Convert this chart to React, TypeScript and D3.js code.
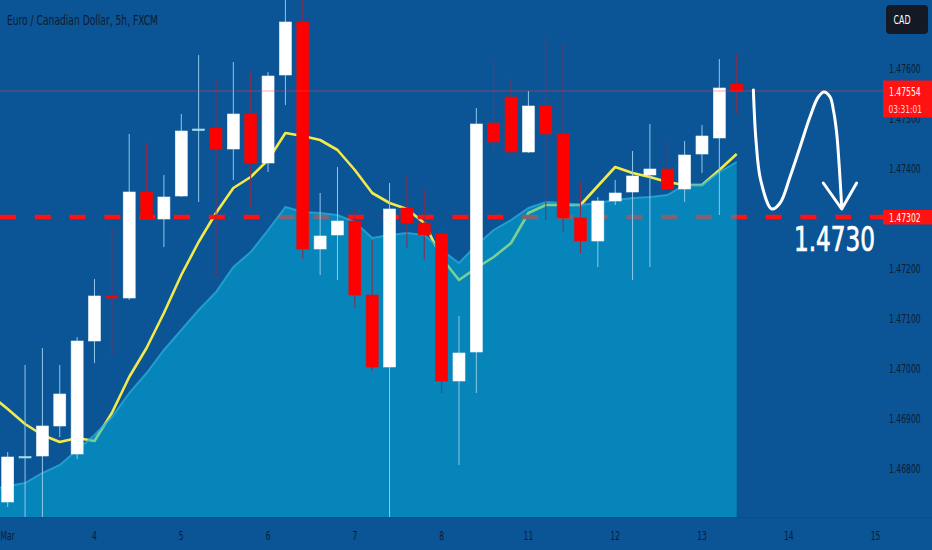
import React, { useEffect } from 'react';
import * as d3 from 'd3';

// 5h candles, EUR/CAD
const opens = [1.46732, 1.46822, 1.46824, 1.46884, 1.46828, 1.47054, 1.47144, 1.4714, 1.47352, 1.47298, 1.47344, 1.47477, 1.4748, 1.47438, 1.47508, 1.4741, 1.47586, 1.47692, 1.47238, 1.47266, 1.47294, 1.47146, 1.47002, 1.4732, 1.4729, 1.47268, 1.46974, 1.47032, 1.4749, 1.47542, 1.47432, 1.47524, 1.47468, 1.473, 1.47254, 1.47334, 1.47352, 1.47386, 1.47398, 1.47358, 1.47428, 1.4746, 1.47568];
const highs = [1.46832, 1.47006, 1.4704, 1.47006, 1.47062, 1.47178, 1.47282, 1.47468, 1.4745, 1.47386, 1.47508, 1.47626, 1.47576, 1.47612, 1.47592, 1.47592, 1.47746, 1.47746, 1.4735, 1.47402, 1.47316, 1.47256, 1.4737, 1.47384, 1.47356, 1.47276, 1.47104, 1.4752, 1.47616, 1.47578, 1.47554, 1.4766, 1.4765, 1.47372, 1.47342, 1.47376, 1.47434, 1.47488, 1.47456, 1.47454, 1.47486, 1.47618, 1.4763];
const lows = [1.46722, 1.4669, 1.4669, 1.46862, 1.46818, 1.4701, 1.47026, 1.47136, 1.47296, 1.47242, 1.47342, 1.47332, 1.4718, 1.47376, 1.4732, 1.47392, 1.47526, 1.47218, 1.47186, 1.47176, 1.4712, 1.46994, 1.4669, 1.4724, 1.47216, 1.4695, 1.46806, 1.4695, 1.47432, 1.4743, 1.4743, 1.47296, 1.47272, 1.4723, 1.47202, 1.47326, 1.47176, 1.47202, 1.47358, 1.47332, 1.4739, 1.47306, 1.4751];
const closes = [1.46822, 1.46823, 1.46884, 1.46948, 1.47054, 1.47144, 1.4714, 1.47352, 1.47298, 1.47342, 1.47474, 1.47478, 1.47438, 1.47508, 1.4741, 1.47584, 1.47692, 1.47238, 1.47264, 1.47294, 1.47146, 1.47002, 1.47318, 1.4729, 1.47266, 1.46974, 1.4703, 1.47488, 1.47452, 1.47432, 1.47524, 1.47468, 1.473, 1.47254, 1.47334, 1.4735, 1.47384, 1.47398, 1.47358, 1.47426, 1.47464, 1.4756, 1.47554];

// moving averages, first value belongs to the bar before the first visible candle
const maStart = -1;
const fastMA = [1.46946, 1.46918, 1.46888, 1.46866, 1.46852, 1.4686, 1.46854, 1.4691, 1.46982, 1.4704, 1.4711, 1.47186, 1.47252, 1.4731, 1.4736, 1.47382, 1.47416, 1.4747, 1.47464, 1.47456, 1.47436, 1.47396, 1.4735, 1.4733, 1.47318, 1.4729, 1.4722, 1.47176, 1.472, 1.47222, 1.4725, 1.4731, 1.47326, 1.47326, 1.47326, 1.47364, 1.47402, 1.4739, 1.47382, 1.47372, 1.47366, 1.47366, 1.47396, 1.47428];
const slowMA = [1.46756, 1.46764, 1.4677, 1.4679, 1.46806, 1.46836, 1.46866, 1.46902, 1.4695, 1.4699, 1.47036, 1.47076, 1.47116, 1.47152, 1.47202, 1.47232, 1.47276, 1.47322, 1.47312, 1.4731, 1.47306, 1.47292, 1.4726, 1.47266, 1.4727, 1.47266, 1.47236, 1.4721, 1.47246, 1.47276, 1.47296, 1.4732, 1.47332, 1.4733, 1.47326, 1.4733, 1.47336, 1.4734, 1.47342, 1.47346, 1.47366, 1.47366, 1.47392, 1.47412];

const dayLabels = ['Mar', '4', '5', '6', '7', '8', '11', '12', '13', '14', '15'];
const barsPerDay = 5;
const priceTicks = [1.468, 1.469, 1.47, 1.471, 1.472, 1.473, 1.474, 1.475, 1.476];

const lastPrice = 1.47554;
const countdown = '03:31:01';
const targetLevel = 1.47302;
const targetText = '1.4730';

// hand drawn "down to target" arrow, [bar index, price]
const arrowStroke: [number, number][] = [
  [42.96, 1.47556], [43.11, 1.47456], [43.38, 1.47376], [44.02, 1.47318], [44.5, 1.4733],
  [45.07, 1.47382], [45.65, 1.47442], [46.22, 1.47502], [46.7, 1.47542], [47.03, 1.47552],
  [47.38, 1.47542], [47.57, 1.47516], [47.76, 1.4747], [47.91, 1.47402], [48.05, 1.47322],
];
const arrowHead: [number, number][] = [[46.99, 1.4737], [48.05, 1.47318], [48.91, 1.4737]];

const W = 932;
const H = 550;
const plotRight = 883;
const plotBottom = 517;

const BG = '#0b5496';
const FG = '#0e1c30';
const RED = '#ff1212';

const App: React.FC = () => {
  useEffect(() => {
    document.body.style.margin = '0';
  }, []);

  const x = d3.scaleLinear().domain([0, 42]).range([7.7, 736.7]);
  const y = d3.scaleLinear().domain([1.468, 1.476]).range([468, 68]);
  const bodyW = 12;

  const maIdx = (i: number) => i + maStart;
  const fastLine = d3.line<number>().x((_, i) => x(maIdx(i))).y((d) => y(d))(fastMA) || '';
  const slowArea =
    d3
      .area<number>()
      .x((_, i) => x(maIdx(i)))
      .y0(plotBottom)
      .y1((d) => y(d))(slowMA) || '';
  const slowLine = d3.line<number>().x((_, i) => x(maIdx(i))).y((d) => y(d))(slowMA) || '';

  const arrowPath =
    d3
      .line<[number, number]>()
      .x((d) => x(d[0]))
      .y((d) => y(d[1]))
      .curve(d3.curveCatmullRom)(arrowStroke) || '';
  const headPath =
    d3
      .line<[number, number]>()
      .x((d) => x(d[0]))
      .y((d) => y(d[1]))(arrowHead) || '';

  const fmt = d3.format('.5f');
  const font = "'DejaVu Sans Condensed', 'Liberation Sans Narrow', 'DejaVu Sans', sans-serif";
  const axisRight = 920.7;

  return (
    <svg width={W} height={H} style={{ display: 'block', background: BG }} fontFamily={font}>
      <defs>
        <clipPath id="plot">
          <rect x={0} y={0} width={plotRight} height={plotBottom} />
        </clipPath>
      </defs>
      <rect x={0} y={0} width={W} height={H} fill={BG} />

      <g clipPath="url(#plot)">
        {/* fast MA, drawn under the area so it tints green inside it */}
        <path d={fastLine} fill="none" stroke="#f3ea4a" strokeWidth={2.6} strokeLinejoin="round" />
        <line
          x1={0}
          x2={plotRight}
          y1={y(targetLevel)}
          y2={y(targetLevel)}
          stroke={RED}
          strokeWidth={4.5}
          strokeDasharray="16 18.8"
        />
        <path d={slowArea} fill="rgb(0,182,222)" fillOpacity={0.5} />
        <path d={slowLine} fill="none" stroke="#2fb0dc" strokeOpacity={0.7} strokeWidth={2} />

        {opens.map((o, i) => {
          const c = closes[i];
          const up = c >= o;
          const cx = x(i);
          const top = y(Math.max(o, c));
          const bot = y(Math.min(o, c));
          const h = Math.max(bot - top, 1.5);
          const doji = up && bot - top < 1;
          return (
            <g key={i}>
              <line
                x1={cx}
                x2={cx}
                y1={y(highs[i])}
                y2={y(lows[i])}
                stroke={up ? '#8fc8ea' : '#8a2c4c'}
                strokeWidth={1}
              />
              <rect
                x={cx - bodyW / 2}
                y={top}
                width={bodyW}
                height={h}
                fill={up ? (doji ? '#a6dce8' : '#ffffff') : '#ff0000'}
                stroke={up ? (doji ? '#a6dce8' : '#e8f4fb') : '#e01010'}
                strokeWidth={0.6}
              />
            </g>
          );
        })}

        <line
          x1={0}
          x2={plotRight}
          y1={y(lastPrice)}
          y2={y(lastPrice)}
          stroke="#ff3c5a"
          strokeOpacity={0.45}
          strokeWidth={1}
        />

        <path d={arrowPath} fill="none" stroke="#ffffff" strokeWidth={3} strokeLinecap="round" strokeLinejoin="round" />
        <path d={headPath} fill="none" stroke="#ffffff" strokeWidth={3} strokeLinecap="round" strokeLinejoin="round" />
        <text
          x={x(45.3)}
          y={y(1.47235)}
          fill="#ffffff"
          stroke="#ffffff"
          strokeWidth={0.7}
          fontSize={33}
          textLength={81}
          lengthAdjust="spacingAndGlyphs"
        >
          {targetText}
        </text>
      </g>

      <line x1={0} x2={W} y1={plotBottom + 0.5} y2={plotBottom + 0.5} stroke="#0a4f8c" strokeWidth={1} />

      {/* title */}
      <text x={7} y={25} fill={FG} fontSize={13.5} textLength={151} lengthAdjust="spacingAndGlyphs">
        Euro / Canadian Dollar, 5h, FXCM
      </text>

      {/* time axis */}
      {dayLabels.map((d, k) => (
        <text
          key={d}
          transform={`translate(${x(k * barsPerDay)},${540}) scale(0.68,1)`}
          textAnchor="middle"
          fill={FG}
          fontSize={12.5}
        >
          {d}
        </text>
      ))}

      {/* price axis */}
      {priceTicks.map((p) => (
        <text
          key={p}
          x={axisRight}
          y={y(p) + 4.5}
          textAnchor="end"
          fill={FG}
          fontSize={11.5}
          textLength={31.7}
          lengthAdjust="spacingAndGlyphs"
        >
          {fmt(p)}
        </text>
      ))}

      {/* last price label */}
      <rect x={883} y={y(lastPrice) - 10.5} width={49} height={37} fill={RED} />
      <text
        x={axisRight}
        y={y(lastPrice) + 4.5}
        textAnchor="end"
        fill="#ffffff"
        fontSize={11.5}
        textLength={31.7}
        lengthAdjust="spacingAndGlyphs"
      >
        {fmt(lastPrice)}
      </text>
      <text
        x={922}
        y={y(lastPrice) + 21.5}
        textAnchor="end"
        fill="#ffd6d6"
        fontSize={11}
        textLength={33.5}
        lengthAdjust="spacingAndGlyphs"
      >
        {countdown}
      </text>

      {/* target label */}
      <rect x={883} y={y(targetLevel) - 7} width={49} height={14.5} fill={RED} />
      <text
        x={axisRight}
        y={y(targetLevel) + 4.5}
        textAnchor="end"
        fill="#ffffff"
        fontSize={11.5}
        textLength={31.7}
        lengthAdjust="spacingAndGlyphs"
      >
        {fmt(targetLevel)}
      </text>

      {/* currency badge */}
      <rect x={886} y={5} width={42} height={29} rx={4} fill="#131a26" />
      <text x={902} y={24} textAnchor="middle" fill="#ffffff" fontSize={12} textLength={17} lengthAdjust="spacingAndGlyphs">
        CAD
      </text>
    </svg>
  );
};

export default App;
